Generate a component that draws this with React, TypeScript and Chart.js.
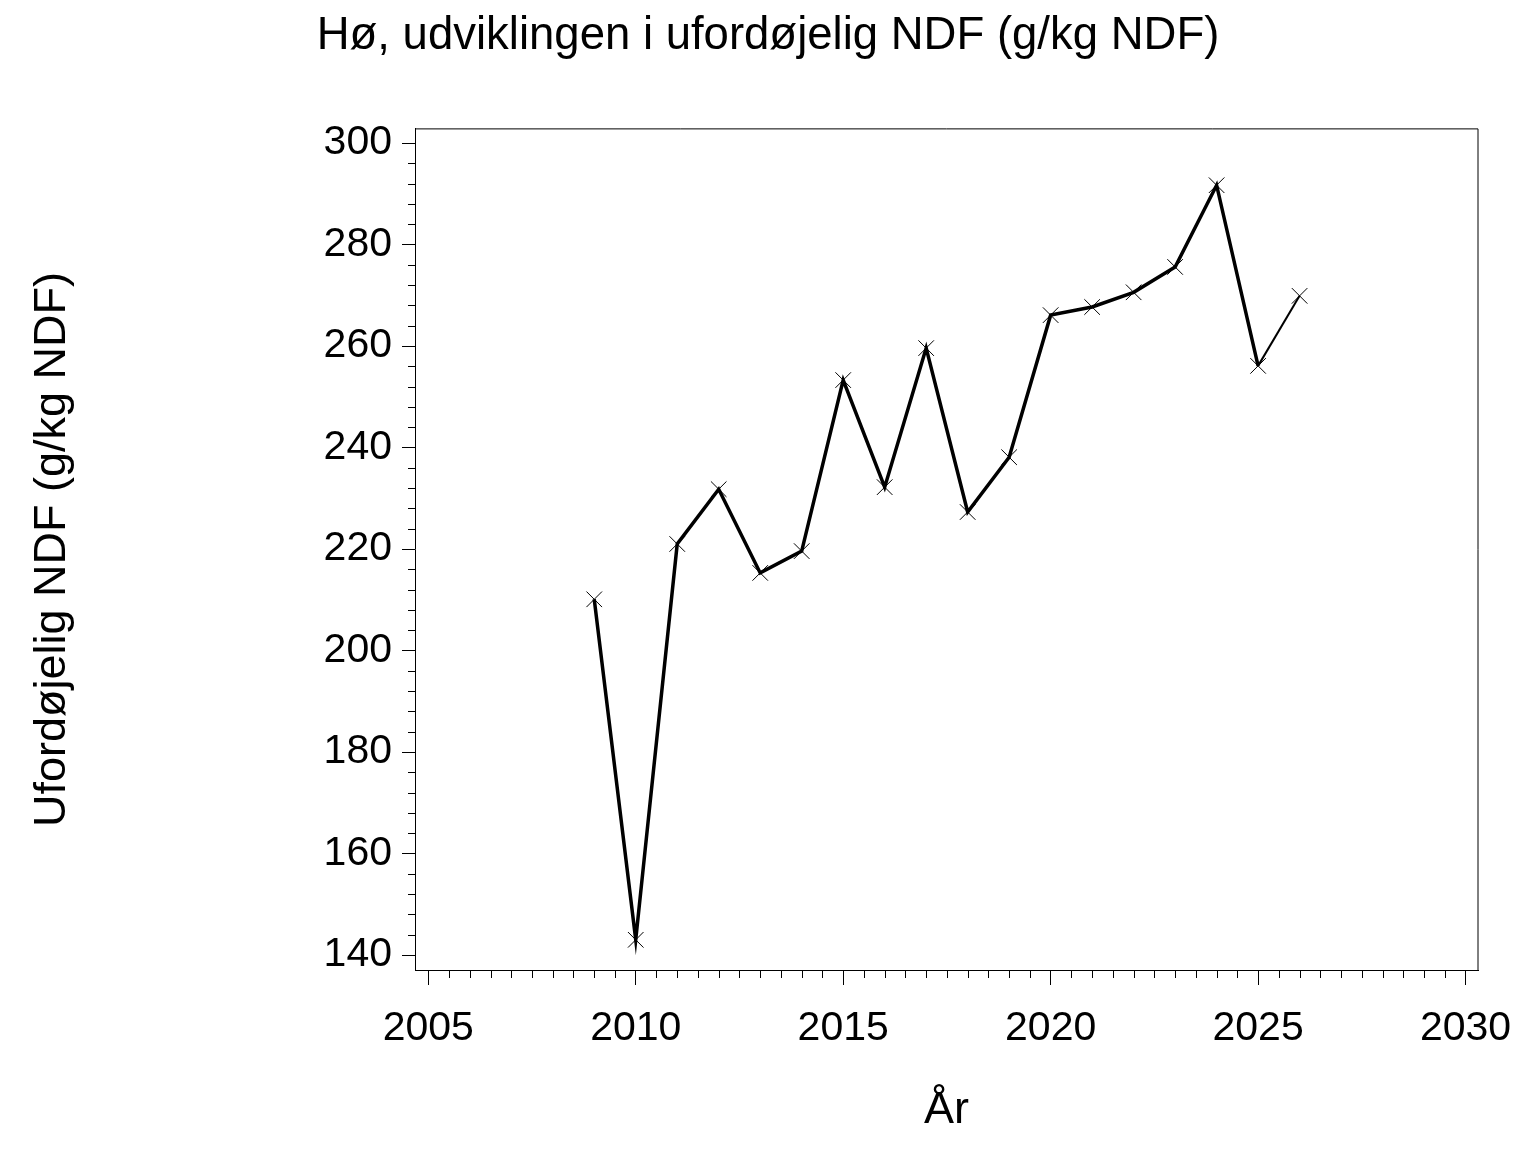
import React, { useEffect, useRef } from "react";
import { Chart, registerables } from "chart.js";

Chart.register(...registerables);

const years = [2009, 2010, 2011, 2012, 2013, 2014, 2015, 2016, 2017, 2018, 2019, 2020, 2021, 2022, 2023, 2024, 2025, 2026];
const values = [210.1, 143.0, 221.0, 231.8, 215.3, 219.6, 253.3, 232.2, 259.6, 227.3, 238.1, 266.1, 267.7, 270.6, 275.6, 291.7, 256.1, 269.9];
const xMajorTicks = [2005, 2010, 2015, 2020, 2025, 2030];
const yMajorTicks = [140, 160, 180, 200, 220, 240, 260, 280, 300];
const titleText = "Hø, udviklingen i ufordøjelig NDF (g/kg NDF)";
const yTitleText = "Ufordøjelig NDF (g/kg NDF)";
const xTitleText = "År";

const FONT = "'Liberation Sans', Arial, sans-serif";

const framePlugin = {
  id: "frameAndMinorTicks",
  afterDraw(chart: any) {
    const { ctx, chartArea } = chart;
    const xs = chart.scales.x;
    const ys = chart.scales.y;
    ctx.save();
    ctx.strokeStyle = "#000";
    ctx.lineWidth = 1;
    ctx.beginPath();
    ctx.moveTo(chartArea.left, chartArea.top);
    ctx.lineTo(chartArea.right, chartArea.top);
    ctx.lineTo(chartArea.right, chartArea.bottom);
    ctx.stroke();
    // minor y ticks every 4
    ctx.beginPath();
    for (let v = 140; v <= 300; v += 4) {
      if (v % 20 === 0) continue;
      const py = Math.round(ys.getPixelForValue(v)) + 0.5;
      ctx.moveTo(chartArea.left - 7, py);
      ctx.lineTo(chartArea.left, py);
    }
    // minor x ticks every 0.5
    for (let v = 2005; v <= 2030; v += 0.5) {
      if (v % 5 === 0) continue;
      const px = Math.round(xs.getPixelForValue(v)) + 0.5;
      ctx.moveTo(px, chartArea.bottom);
      ctx.lineTo(px, chartArea.bottom + 8);
    }
    ctx.stroke();
    ctx.restore();
  },
};

export default function App() {
  const ref = useRef<HTMLCanvasElement>(null);
  useEffect(() => {
    const lastIdx = values.length - 1;
    const chart = new Chart(ref.current!, {
      type: "line",
      data: {
        datasets: [
          {
            data: years.map((y, i) => ({ x: y, y: values[i] })),
            borderColor: "#000",
            borderWidth: 3.5,
            pointStyle: "crossRot",
            pointRadius: 11,
            pointBorderWidth: 1,
            pointBorderColor: "#000",
            pointBackgroundColor: "#000",
            tension: 0,
            segment: {
              borderWidth: (c: any) => (c.p1DataIndex === lastIdx ? 2 : 3.5),
            },
          },
        ],
      },
      options: {
        animation: false,
        responsive: false,
        devicePixelRatio: 1,
        layout: { padding: { top: 0, left: 0, right: 0, bottom: 0 } },
        plugins: {
          legend: { display: false },
          tooltip: { enabled: false },
          title: {
            display: true,
            text: titleText,
            color: "#000",
            font: { family: FONT, size: 45.5, weight: "normal" },
            padding: { top: 9.4, bottom: 64.9 },
          },
        },
        scales: {
          x: {
            type: "linear",
            min: 2004.68,
            max: 2030.3,
            afterFit: (s: any) => {
              s.height = 182;
            },
            afterBuildTicks: (s: any) => {
              s.ticks = xMajorTicks.map((v) => ({ value: v }));
            },
            grid: {
              display: true,
              drawOnChartArea: false,
              drawTicks: true,
              tickLength: 15,
              color: "#000",
              lineWidth: 1,
            },
            border: { display: true, color: "#000", width: 1 },
            ticks: {
              color: "#000",
              font: { family: FONT, size: 41 },
              padding: 19,
              maxRotation: 0,
              autoSkip: false,
              callback: (v: any) => String(v),
            },
            title: {
              display: true,
              text: xTitleText,
              color: "#000",
              font: { family: FONT, size: 45 },
              padding: { top: 0, bottom: 14.6 },
            },
          },
          y: {
            type: "linear",
            min: 137.05,
            max: 302.8,
            afterFit: (s: any) => {
              s.width = 415;
            },
            afterBuildTicks: (s: any) => {
              s.ticks = yMajorTicks.map((v) => ({ value: v }));
            },
            grid: {
              display: true,
              drawOnChartArea: false,
              drawTicks: true,
              tickLength: 13,
              color: "#000",
              lineWidth: 1,
            },
            border: { display: true, color: "#000", width: 1 },
            ticks: {
              color: "#000",
              font: { family: FONT, size: 41 },
              padding: 10,
              autoSkip: false,
              callback: (v: any) => String(v),
            },
            title: {
              display: true,
              text: yTitleText,
              color: "#000",
              font: { family: FONT, size: 45 },
              padding: { top: 25.7, bottom: 0 },
            },
          },
          rightSpace: {
            type: "linear",
            position: "right",
            display: true,
            min: 137.05,
            max: 302.8,
            afterFit: (s: any) => {
              s.width = 58;
            },
            grid: { display: false, drawOnChartArea: false, drawTicks: false },
            border: { display: false },
            ticks: { display: false },
            title: { display: false },
          },
        },
      },
      plugins: [framePlugin],
    });
    return () => chart.destroy();
  }, []);
  return (
    <div style={{ position: "absolute", left: 0, top: 0, width: 1536, height: 1152, background: "#fff" }}>
      <canvas ref={ref} width={1536} height={1152} style={{ display: "block" }} />
    </div>
  );
}
